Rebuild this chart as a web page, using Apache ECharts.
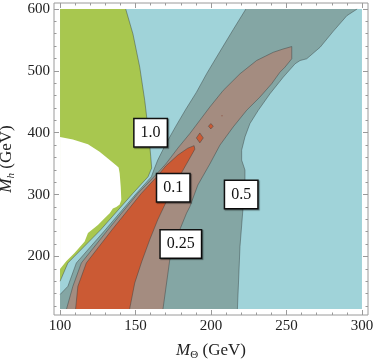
<!DOCTYPE html>
<html><head><meta charset="utf-8">
<script src="https://cdn.jsdelivr.net/npm/echarts@6/dist/echarts.min.js"></script>
<style>html,body{margin:0;padding:0;background:#fff}#c{width:374px;height:362px}</style>
</head><body><div id="c"></div>
<script>
// ---- data (in axis units: M_Theta [GeV], M_h [GeV]) ----
const plotRange = [[100,115],[300,115],[300,600],[100,600]];
const greenRegion = [[100,600],[100,159.7],[105.2,189.4],[126.9,243.0],[148.3,302.1],[158.3,328.8],[160.7,342.8],
  [160.1,361.0],[158.7,398.7],[156.1,452.3],[152.8,506.0],[148.3,559.7],[143.5,600]];
const whiteRegion = [[100,393.2],[108.5,389.0],[118.5,381.5],[126.2,369.1],[132.9,355.7],[137.3,346.9],[138.8,343.6],
  [139.5,334.3],[140.2,312.7],[140.6,291.3],[139.5,284.0],[137.3,280.0],[135.0,277.6],[132.9,269.9],[129.5,261.8],
  [125.1,251.0],[118.5,237.7],[116.3,224.2],[109.6,205.5],[104.1,192.0],[100,179.7]];
const grayBand = [[223.1,600],[214.7,566.7],[205.9,531.2],[197.2,495.8],[190.3,465.2],[183.3,437.9],[176.7,410.5],
  [170.0,381.5],[164.7,355.7],[162.1,339.6],[160.5,328.8],[150.6,302.1],[130.0,243.0],[110.8,189.4],[105.2,151.7],
  [100,138.4],[100,115],[217.5,115],[219.2,216.1],[221.3,280.5],[222.5,323.5],[222.5,339.6],[220.3,355.7],
  [220.3,371.8],[222.5,393.2],[225.8,414.8],[231.3,436.2],[239.1,463.1],[247.9,489.9],[255.7,511.4],[259.0,516.7],
  [263.4,519.5],[272.3,538.2],[281.1,564.3],[290.0,589.2],[296.8,600]];
const brownBand = [[253.5,539.3],[247.7,535.3],[241.3,530.1],[230.2,516.7],[219.2,495.3],[208.1,468.4],[199.2,441.5],
  [192.6,420.1],[186.0,398.7],[178.0,375.0],[170.0,349.3],[162.7,330.0],[151.6,302.1],[131.7,243.0],[114.1,189.4],
  [108.5,151.7],[104.3,115],[168.2,115],[172.7,194.7],[177.1,216.1],[179.3,243.0],[183.8,269.9],[186.0,280.5],
  [191.3,315.5],[199.2,349.3],[205.9,379.9],[214.7,409.3],[223.6,436.2],[232.4,457.6],[240.2,479.2],[245.7,497.9],
  [249.0,506.0],[253.5,519.5]];
const orangeRegion = [[110.3,115],[111.8,151.7],[117.4,189.4],[134.4,243.0],[153.9,302.1],[164.1,328.8],[170.0,346.1],
  [178.0,363.8],[184.6,375.0],[188.8,379.1],[189.3,373.4],[188.2,368.6],[181.5,339.6],[176.0,315.5],[170.0,286.5],
  [164.7,259.1],[159.4,226.9],[154.1,191.5],[149.5,157.2],[146.1,115]];
const orangeIsland1 = [[192.6,399.6],[194.9,391.6],[192.6,383.6],[190.3,391.6]];
const orangeIsland2 = [[199.9,414.8],[201.5,410.5],[199.9,406.2],[198.3,410.5]];
const orangeIsland3 = [[207.3,428.3],[207.8,427.3],[207.3,426.3],[206.8,427.3]];
const contourLabels = ['1.0','0.1','0.5','0.25'];
const labelX = [160,175,220,180];
const labelY = [400,311,300,220];
const xMajorTicks = [100,150,200,250,300];
const xMinorTicks = [110,120,130,140,160,170,180,190,210,220,230,240,260,270,280,290];
const yMajorTicks = [200,300,400,500,600];
const yMinorTicks = [120,140,160,180,220,240,260,280,320,340,360,380,420,440,460,480,520,540,560,580];

// ---- styling ----
const SERIF = '"Liberation Serif","DejaVu Serif",serif';
const FRAME = '#9a9a9a';
const X_MIN = 96, X_MAX = 304, Y_MIN = 105.3, Y_MAX = 609.7;

function onBoundary(a,b){
  return (a[0]===b[0] && (a[0]===100||a[0]===300)) || (a[1]===b[1] && (a[1]===115||a[1]===600));
}
function polySeries(pts, fill, stroke){
  return {
    type:'custom', coordinateSystem:'cartesian2d', xAxisIndex:0, yAxisIndex:0,
    data: pts, encode:{x:0,y:1}, silent:true, animation:false, clip:true,
    renderItem: function(params, api){
      if (params.dataIndex !== 0) return null;
      const P = pts.map(p => api.coord(p));
      const children = [{type:'polygon', shape:{points:P}, style:{fill:fill, stroke:null}}];
      if (stroke) {
        const runs = []; let cur = [];
        for (let i=0;i<pts.length;i++){
          const j=(i+1)%pts.length;
          if (onBoundary(pts[i],pts[j])) { if (cur.length>1) runs.push(cur); cur=[]; }
          else { if (!cur.length) cur.push(P[i]); cur.push(P[j]); }
        }
        if (cur.length>1) runs.push(cur);
        runs.forEach(r => children.push({type:'polyline', shape:{points:r}, style:{stroke:stroke, lineWidth:0.8, fill:null}}));
      }
      return {type:'group', children:children};
    }
  };
}
function xAx(pos, vals, len, withLabels){
  const a = {type:'value', position:pos, min:X_MIN, max:X_MAX, gridIndex:0,
    axisLine:{show:false}, splitLine:{show:false},
    axisTick:{show:true, inside:true, length:len, customValues:vals, lineStyle:{color:FRAME, width:1}},
    axisLabel: withLabels ? {show:true, customValues:vals, margin:4, fontFamily:SERIF, fontSize:15, color:'#222'} : {show:false}};
  if (withLabels) {
    a.name = '{i|M}{s|Θ} (GeV)'; a.nameLocation='middle'; a.nameGap=26;
    a.nameTextStyle = {fontFamily:SERIF, fontSize:17, color:'#222', lineHeight:20,
      rich:{i:{fontFamily:SERIF, fontSize:17, fontStyle:'italic', color:'#222', lineHeight:20},
            s:{fontFamily:SERIF, fontSize:11, color:'#222', lineHeight:10, verticalAlign:'bottom'}}};
  }
  return a;
}
function yAx(pos, vals, len, withLabels){
  const a = {type:'value', position:pos, min:Y_MIN, max:Y_MAX, gridIndex:0,
    axisLine:{show:false}, splitLine:{show:false},
    axisTick:{show:true, inside:true, length:len, customValues:vals, lineStyle:{color:FRAME, width:1}},
    axisLabel: withLabels ? {show:true, customValues:vals, margin:4, fontFamily:SERIF, fontSize:15, color:'#222'} : {show:false}};
  if (withLabels) {
    a.name = '{i|M}{s|h} (GeV)'; a.nameLocation='middle'; a.nameGap=33; a.nameRotate=90;
    a.nameTextStyle = {fontFamily:SERIF, fontSize:17, color:'#222', lineHeight:20,
      rich:{i:{fontFamily:SERIF, fontSize:17, fontStyle:'italic', color:'#222', lineHeight:20},
            s:{fontFamily:SERIF, fontSize:11, fontStyle:'italic', color:'#222', lineHeight:10, verticalAlign:'bottom'}}};
  }
  return a;
}

const chart = echarts.init(document.getElementById('c'), null, {renderer:'canvas'});
const EDGE = 'rgba(50,60,60,0.55)';
chart.setOption({
  animation:false,
  backgroundColor:'#ffffff',
  grid:{left:54, right:6, top:3, bottom:47, show:true, borderColor:FRAME, borderWidth:1, backgroundColor:'transparent',
        containLabel:false, outerBoundsMode:'none'},
  xAxis:[xAx('bottom', xMajorTicks, 5, true), xAx('bottom', xMinorTicks, 2.5, false),
         xAx('top', xMajorTicks, 5, false), xAx('top', xMinorTicks, 2.5, false)],
  yAxis:[yAx('left', yMajorTicks, 5, true), yAx('left', yMinorTicks, 2.5, false),
         yAx('right', yMajorTicks, 5, false), yAx('right', yMinorTicks, 2.5, false)],
  series:[
    polySeries(plotRange, '#a0d3d9', null),
    polySeries(greenRegion, '#a8c74f', EDGE),
    polySeries(whiteRegion, '#ffffff', null),
    polySeries(grayBand, '#84a6a4', EDGE),
    polySeries(brownBand, '#a48c80', EDGE),
    polySeries(orangeRegion, '#cb5a34', EDGE),
    polySeries(orangeIsland1, '#cb5a34', EDGE),
    polySeries(orangeIsland2, '#cb5a34', EDGE),
    polySeries(orangeIsland3, '#8a4a35', null),
    {
      type:'custom', coordinateSystem:'cartesian2d', xAxisIndex:0, yAxisIndex:0, silent:true, animation:false,
      data: labelX.map((x,i) => [x, labelY[i]]),
      renderItem: function(params, api){
        const p = api.coord([api.value(0), api.value(1)]);
        return {type:'text', x:p[0], y:p[1], z2:100, style:{
          text: contourLabels[params.dataIndex], font:'16px ' + SERIF, fill:'#111',
          align:'center', verticalAlign:'middle', backgroundColor:'#fff',
          borderColor:'#111', borderWidth:1.5, padding:[6,6,5,6],
          shadowColor:'rgba(0,0,0,0.45)', shadowOffsetX:1, shadowOffsetY:1, shadowBlur:1}};
      }
    }
  ]
});
</script></body></html>
